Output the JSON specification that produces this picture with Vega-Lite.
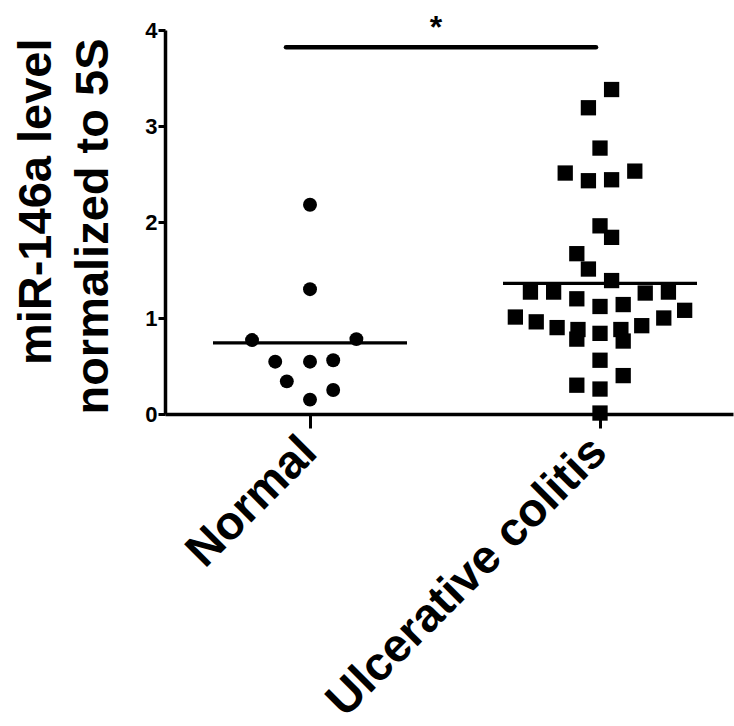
{
  "$schema": "https://vega.github.io/schema/vega-lite/v6.json",
  "autosize": {"type": "none"},
  "padding": {"left": 165, "top": 30, "right": 1, "bottom": 312},
  "width": 568,
  "height": 384,
  "background": "white",
  "config": {
    "view": {"stroke": null},
    "font": "Liberation Sans",
    "axis": {
      "grid": false,
      "domainColor": "black",
      "domainWidth": 3.5,
      "tickColor": "black",
      "tickWidth": 3,
      "labelColor": "black",
      "titleColor": "black",
      "labelFont": "Liberation Sans",
      "titleFont": "Liberation Sans",
      "labelFontWeight": "bold",
      "titleFontWeight": "bold"
    }
  },
  "datasets": {
    "points": [
      {"group": "Normal", "value": 2.18, "lane": 0},
      {"group": "Normal", "value": 1.30, "lane": 0},
      {"group": "Normal", "value": 0.77, "lane": -5.0},
      {"group": "Normal", "value": 0.78, "lane": 4.0},
      {"group": "Normal", "value": 0.545, "lane": -3.0},
      {"group": "Normal", "value": 0.545, "lane": 0},
      {"group": "Normal", "value": 0.56, "lane": 2.0},
      {"group": "Normal", "value": 0.34, "lane": -2.0},
      {"group": "Normal", "value": 0.25, "lane": 2.0},
      {"group": "Normal", "value": 0.15, "lane": 0},
      {"group": "Ulcerative colitis", "value": 3.38, "lane": 1.0},
      {"group": "Ulcerative colitis", "value": 3.19, "lane": -1.0},
      {"group": "Ulcerative colitis", "value": 2.77, "lane": 0},
      {"group": "Ulcerative colitis", "value": 2.51, "lane": -3.0},
      {"group": "Ulcerative colitis", "value": 2.43, "lane": -1.0},
      {"group": "Ulcerative colitis", "value": 2.44, "lane": 1.0},
      {"group": "Ulcerative colitis", "value": 2.53, "lane": 3.0},
      {"group": "Ulcerative colitis", "value": 1.96, "lane": 0},
      {"group": "Ulcerative colitis", "value": 1.84, "lane": 1.0},
      {"group": "Ulcerative colitis", "value": 1.67, "lane": -2.0},
      {"group": "Ulcerative colitis", "value": 1.51, "lane": -1.0},
      {"group": "Ulcerative colitis", "value": 1.39, "lane": 1.0},
      {"group": "Ulcerative colitis", "value": 1.27, "lane": -6.0},
      {"group": "Ulcerative colitis", "value": 1.27, "lane": -4.0},
      {"group": "Ulcerative colitis", "value": 1.20, "lane": -2.0},
      {"group": "Ulcerative colitis", "value": 1.12, "lane": 0},
      {"group": "Ulcerative colitis", "value": 1.14, "lane": 2.0},
      {"group": "Ulcerative colitis", "value": 1.26, "lane": 3.9},
      {"group": "Ulcerative colitis", "value": 1.27, "lane": 5.9},
      {"group": "Ulcerative colitis", "value": 1.01, "lane": -7.3},
      {"group": "Ulcerative colitis", "value": 0.96, "lane": -5.5},
      {"group": "Ulcerative colitis", "value": 0.90, "lane": -3.7},
      {"group": "Ulcerative colitis", "value": 0.88, "lane": -1.9},
      {"group": "Ulcerative colitis", "value": 0.78, "lane": -2.0},
      {"group": "Ulcerative colitis", "value": 0.84, "lane": 0},
      {"group": "Ulcerative colitis", "value": 0.88, "lane": 1.8},
      {"group": "Ulcerative colitis", "value": 0.76, "lane": 2.0},
      {"group": "Ulcerative colitis", "value": 0.92, "lane": 3.6},
      {"group": "Ulcerative colitis", "value": 1.00, "lane": 5.5},
      {"group": "Ulcerative colitis", "value": 1.08, "lane": 7.3},
      {"group": "Ulcerative colitis", "value": 0.56, "lane": 0},
      {"group": "Ulcerative colitis", "value": 0.40, "lane": 2.0},
      {"group": "Ulcerative colitis", "value": 0.30, "lane": -2.0},
      {"group": "Ulcerative colitis", "value": 0.26, "lane": 0},
      {"group": "Ulcerative colitis", "value": 0.01, "lane": 0}
    ],
    "means": [
      {"group": "Normal", "value": 0.74},
      {"group": "Ulcerative colitis", "value": 1.36}
    ],
    "sig": [
      {"from": "Normal", "to": "Ulcerative colitis", "value": 3.82}
    ],
    "star": [
      {"group": "Normal", "lane": 10.86, "value": 3.92, "label": "*"}
    ]
  },
  "encoding": {
    "x": {
      "field": "group",
      "type": "nominal",
      "scale": {"domain": ["Normal", "Ulcerative colitis"], "paddingInner": 0.0828, "paddingOuter": 0.0207, "align": 1},
      "axis": {
        "title": null,
        "labelAngle": -45,
        "labelFontSize": 47,
        "labelPadding": 0,
        "labelOffset": -17,
        "labelLimit": 0,
        "tickSize": 14
      }
    },
    "y": {
      "field": "value",
      "type": "quantitative",
      "scale": {"domain": [0, 4], "nice": false, "zero": true},
      "axis": {
        "title": ["miR-146a level", "normalized to 5S"],
        "titleFontSize": 47,
        "titleLineHeight": 57,
        "titleAngle": -90,
        "titleAlign": "right",
        "titleBaseline": "alphabetic",
        "titleX": -115,
        "titleY": 8,
        "values": [0, 1, 2, 3, 4],
        "format": "d",
        "labelFontSize": 22,
        "labelPadding": 1,
        "tickSize": 7
      }
    }
  },
  "layer": [
    {
      "data": {"name": "means"},
      "mark": {"type": "tick", "color": "black", "size": 194, "thickness": 3.3, "opacity": 1}
    },
    {
      "data": {"name": "points"},
      "transform": [{"filter": "datum.group === 'Normal'"}],
      "mark": {"type": "point", "shape": "circle", "filled": true, "color": "black", "size": 194, "opacity": 1},
      "encoding": {
        "xOffset": {"field": "lane", "type": "quantitative", "scale": {"domain": [-11.47, 11.47]}}
      }
    },
    {
      "data": {"name": "points"},
      "transform": [{"filter": "datum.group === 'Ulcerative colitis'"}],
      "mark": {"type": "point", "shape": "square", "filled": true, "color": "black", "size": 234, "opacity": 1},
      "encoding": {
        "xOffset": {"field": "lane", "type": "quantitative"}
      }
    },
    {
      "data": {"name": "sig"},
      "mark": {"type": "rule", "color": "black", "strokeWidth": 4.5, "strokeCap": "round", "xOffset": -24, "x2Offset": -4},
      "encoding": {
        "x": {"field": "from", "type": "nominal"},
        "x2": {"field": "to"}
      }
    },
    {
      "data": {"name": "star"},
      "mark": {"type": "text", "color": "black", "fontSize": 32, "fontWeight": "bold", "align": "center", "baseline": "alphabetic"},
      "encoding": {
        "xOffset": {"field": "lane", "type": "quantitative"},
        "text": {"field": "label"}
      }
    }
  ]
}
